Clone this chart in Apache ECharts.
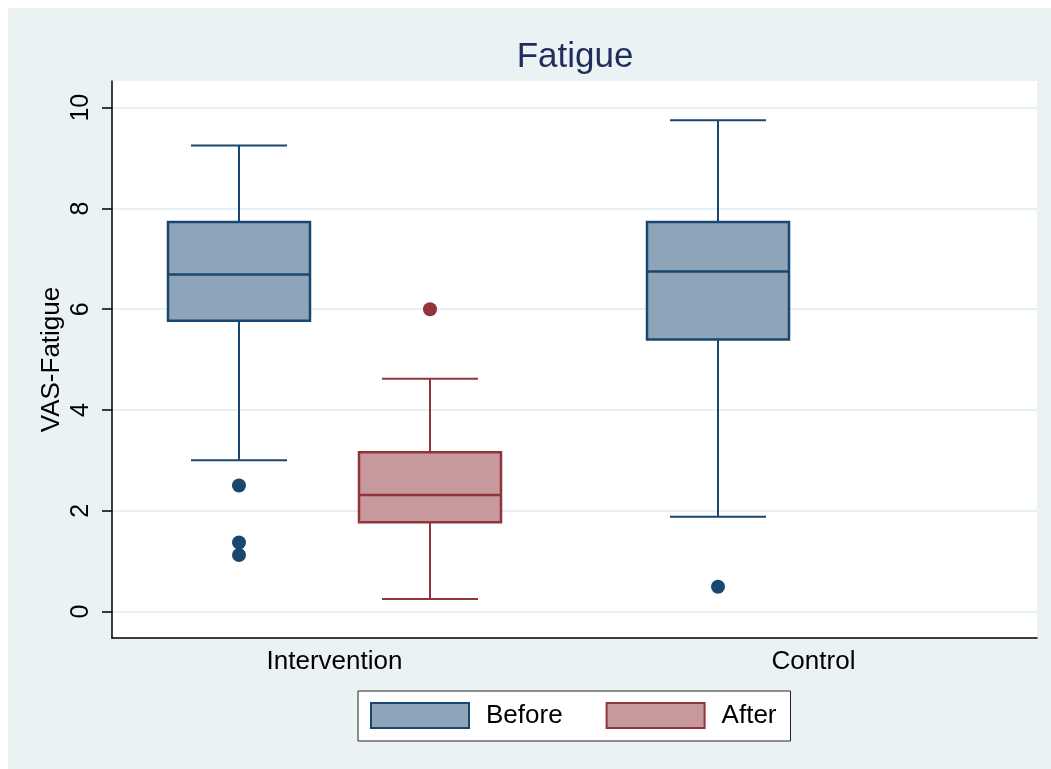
<!DOCTYPE html>
<html>
<head>
<meta charset="utf-8">
<script src="https://cdn.jsdelivr.net/npm/echarts@6/dist/echarts.min.js"></script>
<style>
  html, body { margin: 0; padding: 0; background: #ffffff; }
  #wrap { position: absolute; left: 8px; top: 8px; width: 1043px; height: 761px; background: #eaf2f3; }
  #chart { width: 1043px; height: 761px; }
</style>
</head>
<body>
<div id="wrap"><div id="chart"></div></div>
<script>
// ---- data ----
const categories = ['Intervention', 'Control'];
const seriesNames = ['Before', 'After'];
// [lower whisker, Q1, median, Q3, upper whisker] per category
const beforeStats = [
  [3.00, 5.77, 6.69, 7.73, 9.25],
  [1.88, 5.40, 6.75, 7.73, 9.75]
];
const afterStats = [
  [0.25, 1.77, 2.31, 3.16, 4.62],
  null
];
// outliers: [category index, value]
const beforeOutliers = [[0, 2.50], [0, 1.37], [0, 1.12], [1, 0.49]];
const afterOutliers = [[0, 6.00]];
const yTicks = [0, 2, 4, 6, 8, 10];

// ---- styling ----
const NAVY = '#1a476f', NAVY_FILL = '#8da4b9';
const MAROON = '#90353b', MAROON_FILL = '#c8999c';
const FONT = 'Liberation Sans, Arial, Helvetica, sans-serif';
const BOX_OFFSET = 95.5, BOX_HALF = 71, CAP_HALF = 48;

function toRows(stats) {
  const rows = [];
  stats.forEach((s, i) => { if (s) rows.push([i].concat(s)); });
  return rows;
}

function makeRender(offset, stroke, fill) {
  return function (params, api) {
    const g = api.value(0);
    const lo = api.coord([g, api.value(1)]);
    const q1 = api.coord([g, api.value(2)]);
    const md = api.coord([g, api.value(3)]);
    const q3 = api.coord([g, api.value(4)]);
    const hi = api.coord([g, api.value(5)]);
    const cx = lo[0] + offset;
    const lineStyle = { stroke: stroke, lineWidth: 2 };
    return {
      type: 'group',
      children: [
        { type: 'line', shape: { x1: cx, y1: q3[1], x2: cx, y2: hi[1] }, style: lineStyle },
        { type: 'line', shape: { x1: cx - CAP_HALF, y1: hi[1], x2: cx + CAP_HALF, y2: hi[1] }, style: lineStyle },
        { type: 'line', shape: { x1: cx, y1: q1[1], x2: cx, y2: lo[1] }, style: lineStyle },
        { type: 'line', shape: { x1: cx - CAP_HALF, y1: lo[1], x2: cx + CAP_HALF, y2: lo[1] }, style: lineStyle },
        { type: 'rect', shape: { x: cx - BOX_HALF, y: q3[1], width: BOX_HALF * 2, height: q1[1] - q3[1] },
          style: { fill: fill, stroke: stroke, lineWidth: 2.5 } },
        { type: 'line', shape: { x1: cx - BOX_HALF, y1: md[1], x2: cx + BOX_HALF, y2: md[1] },
          style: { stroke: stroke, lineWidth: 2.5 } }
      ]
    };
  };
}

const chart = echarts.init(document.getElementById('chart'), null, { renderer: 'canvas' });
chart.setOption({
  backgroundColor: 'transparent',
  animation: false,
  textStyle: { fontFamily: FONT },
  title: {
    text: 'Fatigue',
    left: 567,
    top: 32,
    padding: 0,
    textAlign: 'center',
    textStyle: { fontFamily: FONT, fontSize: 35, fontWeight: 'normal', color: '#1e2d5c' }
  },
  legend: {
    data: [
      { name: seriesNames[0], icon: 'rect', itemStyle: { color: NAVY_FILL, borderColor: NAVY, borderWidth: 2 } },
      { name: seriesNames[1], icon: 'rect', itemStyle: { color: MAROON_FILL, borderColor: MAROON, borderWidth: 2 } }
    ],
    left: 350,
    top: 683,
    orient: 'horizontal',
    itemWidth: 98,
    itemHeight: 25,
    itemGap: 43,
    padding: [11, 14, 12, 12],
    backgroundColor: '#ffffff',
    borderColor: '#222222',
    borderWidth: 1,
    borderRadius: 0,
    selectedMode: false,
    textStyle: { fontFamily: FONT, fontSize: 26, color: '#000000', padding: [0, 0, 0, 12] }
  },
  grid: {
    left: 104, top: 73, width: 925, height: 557,
    show: true, backgroundColor: '#ffffff', borderWidth: 0, containLabel: false
  },
  xAxis: {
    type: 'value',
    min: -0.4645,
    max: 1.4666,
    axisLine: { show: true, onZero: false, lineStyle: { color: '#000000', width: 1.5 } },
    axisTick: { show: false },
    splitLine: { show: false },
    axisLabel: {
      customValues: [0, 1],
      formatter: v => categories[Math.round(v)] || '',
      fontFamily: FONT, fontSize: 26, color: '#000000', margin: 11
    }
  },
  yAxis: {
    type: 'value',
    name: 'VAS-Fatigue',
    nameLocation: 'middle',
    nameGap: 47,
    nameMoveOverlap: false,
    nameRotate: 90,
    nameTextStyle: { fontFamily: FONT, fontSize: 26, color: '#000000' },
    min: -0.526,
    max: 10.53,
    axisLine: { show: true, onZero: false, lineStyle: { color: '#000000', width: 1.5 } },
    axisTick: { show: true, customValues: yTicks, length: 10, lineStyle: { color: '#000000', width: 1.5 } },
    splitLine: { show: true, lineStyle: { color: '#e8f0f2', width: 2 } },
    axisLabel: {
      customValues: yTicks,
      rotate: 90,
      fontFamily: FONT, fontSize: 25, color: '#000000', margin: 18
    }
  },
  series: [
    {
      name: seriesNames[0],
      type: 'custom',
      renderItem: makeRender(-BOX_OFFSET, NAVY, NAVY_FILL),
      itemStyle: { color: NAVY_FILL, borderColor: NAVY },
      encode: { x: 0, y: [1, 2, 3, 4, 5] },
      data: toRows(beforeStats),
      z: 3
    },
    {
      name: seriesNames[1],
      type: 'custom',
      renderItem: makeRender(BOX_OFFSET, MAROON, MAROON_FILL),
      itemStyle: { color: MAROON_FILL, borderColor: MAROON },
      encode: { x: 0, y: [1, 2, 3, 4, 5] },
      data: toRows(afterStats),
      z: 3
    },
    {
      name: seriesNames[0],
      type: 'scatter',
      symbol: 'circle',
      symbolSize: 14,
      symbolOffset: [-BOX_OFFSET, 0],
      itemStyle: { color: NAVY, opacity: 1 },
      data: beforeOutliers,
      z: 4
    },
    {
      name: seriesNames[1],
      type: 'scatter',
      symbol: 'circle',
      symbolSize: 14,
      symbolOffset: [BOX_OFFSET, 0],
      itemStyle: { color: MAROON, opacity: 1 },
      data: afterOutliers,
      z: 4
    }
  ]
});
</script>
</body>
</html>
